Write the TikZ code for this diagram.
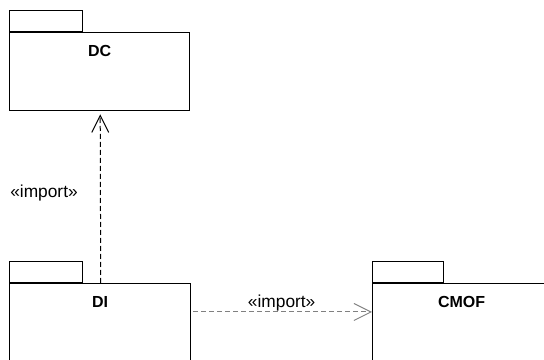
\documentclass[tikz,border=0pt]{standalone}
\usepackage{fontspec}
\setmainfont{Liberation Sans}
\usetikzlibrary{arrows.meta}

\tikzset{
	pkgbody/.style={draw, line width=1pt, anchor=north west, minimum height=75pt, inner sep=0pt},
	pkgtab/.style={draw, line width=1pt, anchor=south west, minimum height=15.75pt, inner sep=0pt},
	pkgname/.style={font=\fontsize{12}{14}\selectfont\bfseries, inner sep=0pt},
	importlbl/.style={font=\fontsize{13}{15}\selectfont, inner sep=0pt},
	importdep/.style={line width=0.75pt, dash pattern=on 3.75pt off 2.25pt, -{Straight Barb[length=12.75pt, width=12.75pt, line width=0.75pt]}}
}

\begin{document}
\begin{tikzpicture}[x=0.75pt, y=-0.75pt]
			%%%%% START %%%%%
			\useasboundingbox (0, 0) rectangle (544, 360);
			\clip (0, 0) rectangle (544, 360);
			
			% package DC
			\node[pkgbody, minimum width=135pt, minimum height=58.5pt] (dc) at (9, 32) {};
			\node[pkgtab, minimum width=54.75pt] (dctab) at (dc.north west) {};
			\node[pkgname] (dcname) at ([yshift=-14.6pt]dc.north) {DC};
			
			% package DI
			\node[pkgbody, minimum width=135.75pt] (di) at (9, 283) {};
			\node[pkgtab, minimum width=54.75pt] (ditab) at (di.north west) {};
			\node[pkgname] (diname) at ([yshift=-14.6pt]di.north) {DI};
			
			% package CMOF
			\node[pkgbody, minimum width=133.5pt] (cmof) at (372, 283) {};
			\node[pkgtab, minimum width=53.25pt] (cmoftab) at (cmof.north west) {};
			\node[pkgname] (cmofname) at ([yshift=-14.6pt]cmof.north) {CMOF};
			
			% imports
			\draw[importdep, shorten >=2.25pt] ([xshift=0.4pt]di.north) -- ([xshift=0.4pt]dc.south);
			\node[importlbl] (importdc) at (44, 193) {«import»};
			
			\draw[importdep, color=black!50, shorten <=1.5pt] ([yshift=-21.75pt]di.north east) -- ([yshift=-21.75pt]cmof.north west)
				node[importlbl, midway, yshift=7.1pt, color=black] (importcmof) {«import»};
			
			%%%%% END %%%%%
\end{tikzpicture}
\end{document}
